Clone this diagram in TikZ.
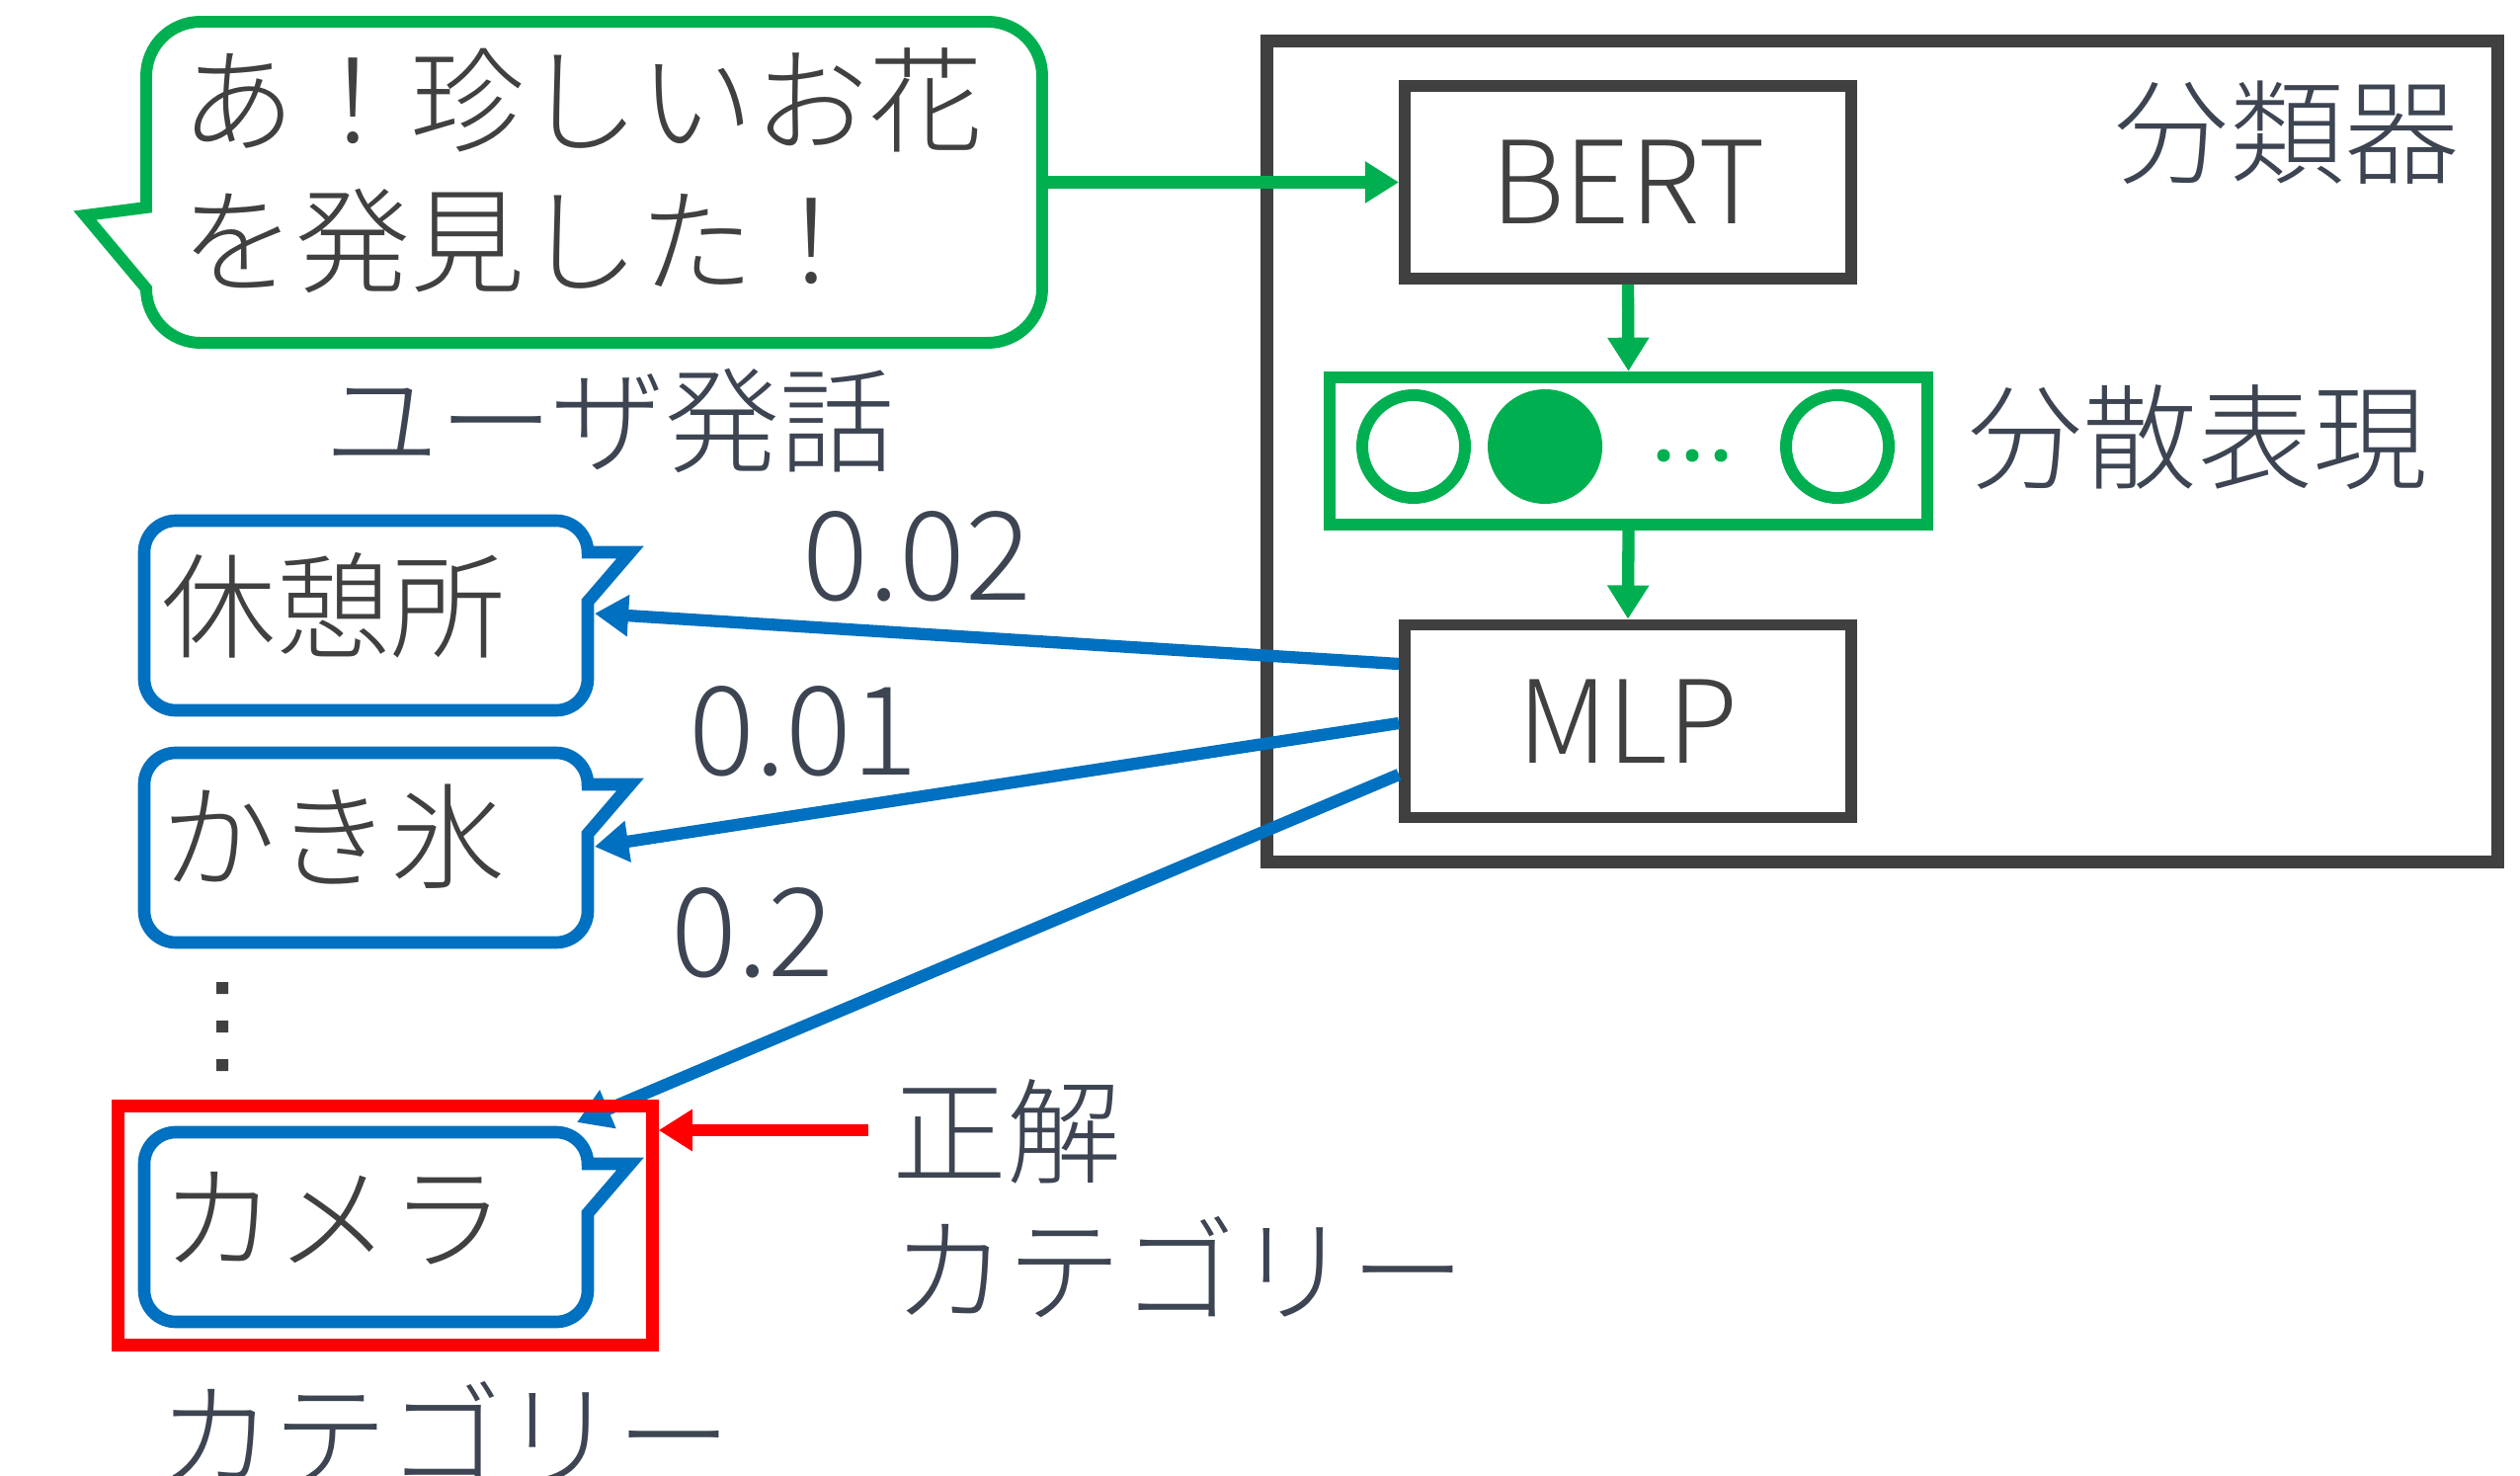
\documentclass[tikz,border=0pt]{standalone}
\usepackage{fontspec}
\setmainfont{Noto Sans CJK JP Light}
\usetikzlibrary{arrows.meta,calc}
\definecolor{cgreen}{HTML}{00B050}
\definecolor{cblue}{HTML}{0070C0}
\definecolor{cred}{HTML}{FF0000}
\definecolor{cgray}{HTML}{404040}
\definecolor{cslate}{HTML}{3D4452}
\newcommand{\catbubble}[1]{%
  \draw[bubbleB] (178,#1) -- (563,#1) arc[start angle=270,end angle=360,radius=32]
    -- (638,{#1+32}) -- (595,{#1+82}) -- (595,{#1+160})
    arc[start angle=0,end angle=90,radius=32] -- (178,{#1+192})
    arc[start angle=90,end angle=180,radius=32] -- (146,{#1+32})
    arc[start angle=180,end angle=270,radius=32] -- cycle;}
\begin{document}
\begin{tikzpicture}[x=0.01cm,y=-0.01cm,
  bigfont/.style={font=\fontsize{33pt}{40pt}\selectfont},
  numfont/.style={font=\fontsize{35.5pt}{42pt}\selectfont},
  modbox/.style={draw=cgray,line width=3.3pt,inner sep=0pt,minimum width=4.52cm,
    minimum height=1.95cm,text=cgray,bigfont},
  txt/.style={text=cgray,inner sep=0pt,bigfont},
  lbl/.style={text=cslate,inner sep=0pt,bigfont},
  num/.style={text=cslate,inner sep=0pt,numfont},
  bubbleG/.style={draw=cgreen,line width=3.4pt,line join=miter,fill=white},
  bubbleB/.style={draw=cblue,line width=3.6pt,line join=miter,fill=white},
  conn/.style={line width=3.5pt,-{Triangle[length=9.7pt,width=11.4pt]}},
  vecunit/.style={circle,draw=cgreen,line width=3.4pt,inner sep=0pt,minimum size=1.04cm}]
\useasboundingbox (0,0) rectangle (2551,1494);

% classifier frame
\node[draw=cgray,line width=3.6pt,inner sep=0pt,minimum width=12.45cm,minimum height=8.30cm] (clf) at (1905.5,457) {};
\node[lbl] (clflbl) at (2315,134) {分類器};

% user utterance bubble
\draw[bubbleG] (203,22) -- (1000,22) arc[start angle=270,end angle=360,radius=55]
  -- (1055,292) arc[start angle=0,end angle=90,radius=55] -- (203,347)
  arc[start angle=90,end angle=180,radius=55] -- (86,218) -- (148,210)
  -- (148,77) arc[start angle=180,end angle=270,radius=55] -- cycle;
\node[txt,anchor=west] (utt1) at (183,101) {あ！珍しいお花};
\node[txt,anchor=west] (utt2) at (183,244) {を発見した！};
\coordinate (uttR) at (1055,184.5);
\node[lbl] (uttlbl) at (617,426) {ユーザ発話};

% modules
\node[modbox] (bert) at (1648,184.5) {BERT};
\node[draw=cgreen,line width=3.5pt,inner sep=0pt,minimum width=6.05cm,minimum height=1.49cm] (rep) at (1648.5,456.5) {};
\node[vecunit] (v1) at (1431,452) {};
\node[vecunit,fill=cgreen] (v2) at (1564,452) {};
\node[vecunit] (v3) at (1860,452) {};
\fill[cgreen] (1684,461) circle[radius=6.5] (1713,461) circle[radius=6.5] (1742,461) circle[radius=6.5];
\node[lbl] (replbl) at (2225,443) {分散表現};
\node[modbox] (mlp) at (1648,730) {MLP};

\draw[conn,cgreen] (uttR) -- (bert.west);
\draw[conn,cgreen] (bert.south) -- (rep.north);
\draw[conn,cgreen] (rep.south) -- (mlp.north);

% category bubbles
\catbubble{527}
\node[txt,anchor=west] (c1) at (163,613) {休憩所};
\catbubble{762}
\node[txt,anchor=west] (c2) at (163,847) {かき氷};
\catbubble{1146}
\node[txt,anchor=west] (c3) at (163,1233) {カメラ};
\fill[cgray] (219,994) rectangle (231,1006) (219,1033) rectangle (231,1045) (219,1072) rectangle (231,1084);

\coordinate (k1) at (602,621);
\coordinate (k2) at (602,857);
\coordinate (k3) at (584,1136);
\draw[conn,cblue] ($(mlp.west)+(0,-58)$) -- (k1);
\draw[conn,cblue] ($(mlp.west)+(0,2)$) -- (k2);
\draw[conn,cblue] ($(mlp.west)+(0,54)$) -- (k3);
\node[num] (p1) at (928,563) {0.02};
\node[num] (p2) at (813,740) {0.01};
\node[num] (p3) at (762,944) {0.2};

% correct category
\node[draw=cred,line width=3.7pt,inner sep=0pt,minimum width=5.40cm,minimum height=2.41cm] (redbox) at (390,1240.5) {};
\coordinate (rs) at (879,1144);
\draw[conn,cred,line width=3.4pt] (rs) -- (rs -| redbox.east);
\node[lbl,anchor=west] (ans1) at (903,1145) {正解};
\node[lbl,anchor=west] (ans2) at (903,1283) {カテゴリー};
\node[lbl,anchor=west] (catlbl) at (160,1450) {カテゴリー};
\end{tikzpicture}
\end{document}
